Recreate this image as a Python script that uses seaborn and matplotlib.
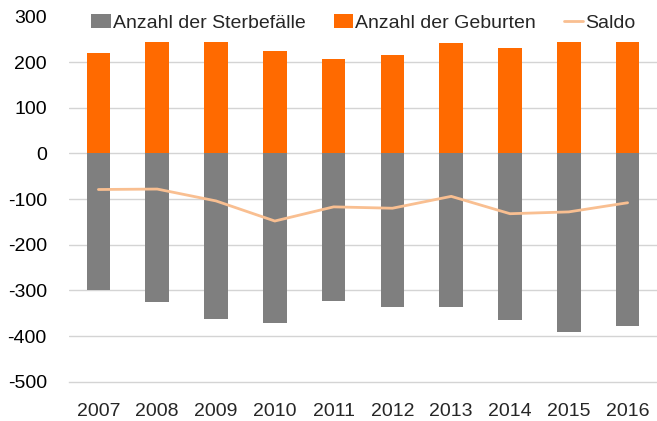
import numpy as np
import pandas as pd
import seaborn as sns
import matplotlib.pyplot as plt
from matplotlib.ticker import FixedLocator

# Werte
JAHRE = ["2007", "2008", "2009", "2010", "2011", "2012", "2013", "2014", "2015", "2016"]
STERBEFAELLE = [-299, -325, -363, -371, -323, -336, -337, -364, -391, -377]
GEBURTEN = [220, 244, 244, 225, 206, 216, 242, 231, 244, 244]
SALDO = [-79, -78, -104, -148, -117, -120, -94, -132, -128, -108]

df = pd.DataFrame({
    "Jahr": JAHRE,
    "Sterbefaelle": STERBEFAELLE,
    "Geburten": GEBURTEN,
    "Saldo": SALDO,
})

sns.set_style("white")
plt.rcParams["font.family"] = ["Liberation Sans", "DejaVu Sans"]
plt.rcParams["axes.unicode_minus"] = False

fig = plt.figure(figsize=(6.57, 4.21), dpi=100)
ax = fig.add_axes([69 / 657, 1 - 381.8 / 421, 1 - 69 / 657, (381.8 - 16.4) / 421])

sns.barplot(data=df, x="Jahr", y="Sterbefaelle", color="#7f7f7f", saturation=1,
            width=0.4, linewidth=0, label="Anzahl der Sterbefälle", ax=ax)
sns.barplot(data=df, x="Jahr", y="Geburten", color="#ff6a00", saturation=1,
            width=0.4, linewidth=0, label="Anzahl der Geburten", ax=ax)
sns.pointplot(data=df, x="Jahr", y="Saldo", color="#f9bf91", markers="",
              linewidth=2, errorbar=None, label="Saldo", ax=ax)

ax.set_xlim(-0.5, len(JAHRE) - 0.5)
ax.set_ylim(-500, 300)
ax.set_yticks(np.arange(-500, 301, 100))

# Gitterlinien (ohne die oberste bei 300)
for v in range(-400, 201, 100):
    ax.axhline(v, color="#d4d4d4", linewidth=1, zorder=0)

for side in ["top", "right", "left"]:
    ax.spines[side].set_visible(False)
ax.spines["bottom"].set_color("#d4d4d4")
ax.spines["bottom"].set_linewidth(1)

ax.set_xlabel("")
ax.set_ylabel("")
ax.tick_params(axis="y", length=0, pad=16, labelsize=14, colors="#000000")
ax.tick_params(axis="x", which="major", length=0, pad=15, labelsize=14)
ax.xaxis.set_minor_locator(FixedLocator(np.arange(-0.5, len(JAHRE), 1.0)))
ax.tick_params(axis="x", which="minor", length=5, color="#d4d4d4", width=1)

handles, labels = ax.get_legend_handles_labels()
order = [labels.index(n) for n in ["Anzahl der Sterbefälle", "Anzahl der Geburten", "Saldo"]]
ax.legend([handles[i] for i in order], [labels[i] for i in order], ncol=3, loc="center left",
          bbox_to_anchor=(0.038, (381.8 - 23) / (381.8 - 16.4)),
          frameon=False, fontsize=14, handlelength=1.0, handleheight=0.7,
          handletextpad=0.1, columnspacing=1.45, borderpad=0, borderaxespad=0)

fig.savefig("out.png", dpi=100)
plt.close(fig)
